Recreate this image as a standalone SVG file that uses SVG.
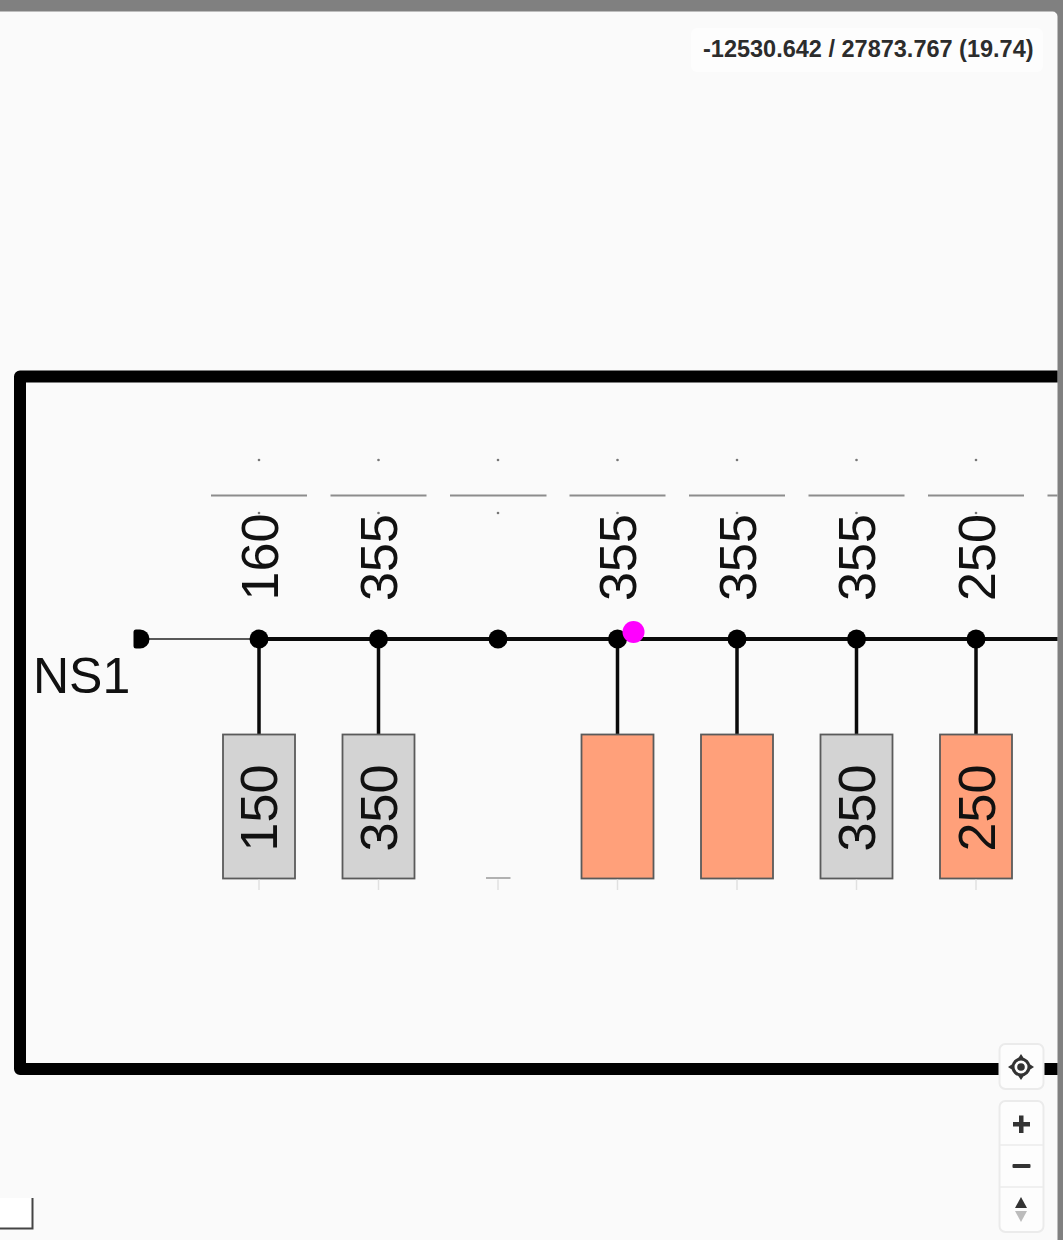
<svg xmlns="http://www.w3.org/2000/svg" width="1063" height="1240" viewBox="0 0 1063 1240">
<style>
.lbl{font-family:"Liberation Sans",Arial,sans-serif;font-size:52px;fill:#111}
.rot{text-anchor:middle}
.box{stroke:#5a5a5a;stroke-width:1.8}
.grey{fill:#d3d3d3}
.salmon{fill:#ffa07a}
.bar{stroke:#8c8c8c;stroke-width:2;fill:none}
.tick{stroke:#e0e0e0;stroke-width:1.5;fill:none}
.dot{fill:#777}
.stub{stroke:#0a0a0a;stroke-width:3.5;fill:none}
.joint{fill:#000}
.ctl{fill:#fdfdfd;stroke:#ebebeb;stroke-width:2}
.icon{fill:#333}
</style>
<rect width="1063" height="1240" fill="#808080"/>
<rect x="-10" y="11.5" width="1067.5" height="1240" rx="5" fill="#fafafa"/>
<g id="frame"><path d="M1057.5 376.5H20V1069H1057.5" fill="none" stroke="#000" stroke-width="12" stroke-linejoin="round"/></g>
<g id="connectors">
<path d="M141 639H259" stroke="#222" stroke-width="1.4" fill="none"/>
<path d="M259 639H1057.5" stroke="#0a0a0a" stroke-width="4" fill="none"/>
<path class="stub" d="M259 639V734M378.500 639V734M617.500 639V734M737 639V734M856.500 639V734M976 639V734"/>
</g>
<g id="top-marks">
<path class="bar" d="M211 495.500H307M330.500 495.500H426.500M450 495.500H546.500M569.500 495.500H665.500M689 495.500H785M808.500 495.500H904.500M928 495.500H1024M1047.500 495.500H1057.500"/>
<g class="dot">
<circle cx="259" cy="460" r="1.300"/><circle cx="378.500" cy="460" r="1.300"/><circle cx="498" cy="460" r="1.300"/><circle cx="617.500" cy="460" r="1.300"/><circle cx="737" cy="460" r="1.300"/><circle cx="856.500" cy="460" r="1.300"/><circle cx="976" cy="460" r="1.300"/>
<circle cx="259" cy="513" r="1.300"/><circle cx="378.500" cy="513" r="1.300"/><circle cx="498" cy="513" r="1.300"/><circle cx="617.500" cy="513" r="1.300"/><circle cx="737" cy="513" r="1.300"/><circle cx="856.500" cy="513" r="1.300"/><circle cx="976" cy="513" r="1.300"/>
</g>
</g>
<g id="source-NS1">
<path class="joint" d="M136 629.500H140A9.500 9.500 0 0 1 140 648.500H136Q133.500 648.500 133.500 646V632Q133.500 629.500 136 629.500Z"/>
<text class="lbl" x="33" y="693" style="font-size:50px">NS1</text>
</g>
<g id="node-1"><circle class="joint" cx="259" cy="639" r="9.500"/><text class="lbl rot" transform="translate(277.500 557) rotate(-90)">160</text><rect class="box grey" x="223" y="734.500" width="72" height="144"/><text class="lbl rot" transform="translate(277 808) rotate(-90)">150</text><path class="tick" d="M259 879.500V890"/></g>
<g id="node-2"><circle class="joint" cx="378.500" cy="639" r="9.500"/><text class="lbl rot" transform="translate(397 557.500) rotate(-90)">355</text><rect class="box grey" x="342.500" y="734.500" width="72" height="144"/><text class="lbl rot" transform="translate(397 808) rotate(-90)">350</text><path class="tick" d="M378.500 879.500V890"/></g>
<g id="node-3"><circle class="joint" cx="498" cy="639" r="9.500"/><path d="M486 878H510.500" stroke="#999" stroke-width="1.500" fill="none"/><path class="tick" d="M498 879.500V890"/></g>
<g id="node-4"><circle class="joint" cx="617.500" cy="639" r="9.500"/><text class="lbl rot" transform="translate(636 557.500) rotate(-90)">355</text><rect class="box salmon" x="581.500" y="734.500" width="72" height="144"/><path class="tick" d="M617.500 879.500V890"/></g>
<g id="node-5"><circle class="joint" cx="737" cy="639" r="9.500"/><text class="lbl rot" transform="translate(755.500 557.500) rotate(-90)">355</text><rect class="box salmon" x="701" y="734.500" width="72" height="144"/><path class="tick" d="M737 879.500V890"/></g>
<g id="node-6"><circle class="joint" cx="856.500" cy="639" r="9.500"/><text class="lbl rot" transform="translate(875 557.500) rotate(-90)">355</text><rect class="box grey" x="820.500" y="734.500" width="72" height="144"/><text class="lbl rot" transform="translate(875 808) rotate(-90)">350</text><path class="tick" d="M856.500 879.500V890"/></g>
<g id="node-7"><circle class="joint" cx="976" cy="639" r="9.500"/><text class="lbl rot" transform="translate(994.500 557.500) rotate(-90)">250</text><rect class="box salmon" x="940" y="734.500" width="72" height="144"/><text class="lbl rot" transform="translate(994.500 808) rotate(-90)">250</text><path class="tick" d="M976 879.500V890"/></g>
<circle id="cursor" cx="633.500" cy="632" r="11" fill="#f0f"/>
<g id="coords"><rect x="691" y="28" width="352" height="44" rx="6" fill="#fdfdfd"/><text x="703" y="57" font-family="'Liberation Sans',Arial,sans-serif" font-weight="700" font-size="23.500" fill="#2c2c2c">-12530.642 / 27873.767 (19.74)</text></g>
<g id="locate"><rect class="ctl" x="999.500" y="1044" width="44" height="45" rx="6"/>
<circle cx="1021" cy="1067" r="8" fill="none" stroke="#333" stroke-width="3"/><circle cx="1021" cy="1067" r="3.800" fill="#333"/><path class="icon" d="M1021 1054L1025 1060H1017ZM1021 1080L1025 1074H1017ZM1008 1067L1014 1063V1071ZM1034 1067L1028 1063V1071Z"/></g>
<g id="zoom-controls"><rect class="ctl" x="999.500" y="1101" width="44" height="131" rx="6"/>
<path d="M1000 1145H1043M1000 1187H1043" stroke="#ebebeb" stroke-width="1.500" fill="none"/>
<path class="icon" d="M1019 1115.500H1023.500V1122H1030V1126.500H1023.500V1133H1019V1126.500H1013V1122H1019Z"/>
<rect class="icon" x="1012.500" y="1164" width="18" height="4" rx="1"/>
<path class="icon" d="M1021 1197L1027 1208H1015Z"/><path d="M1021 1222L1027 1211H1015Z" fill="#bcbcbc"/></g>
<g id="overview"><path d="M-5 1198H32.500V1228.500H-5Z" fill="#fff"/><path d="M32.500 1198V1228.500H-5" fill="none" stroke="#444" stroke-width="2"/></g>
</svg>
